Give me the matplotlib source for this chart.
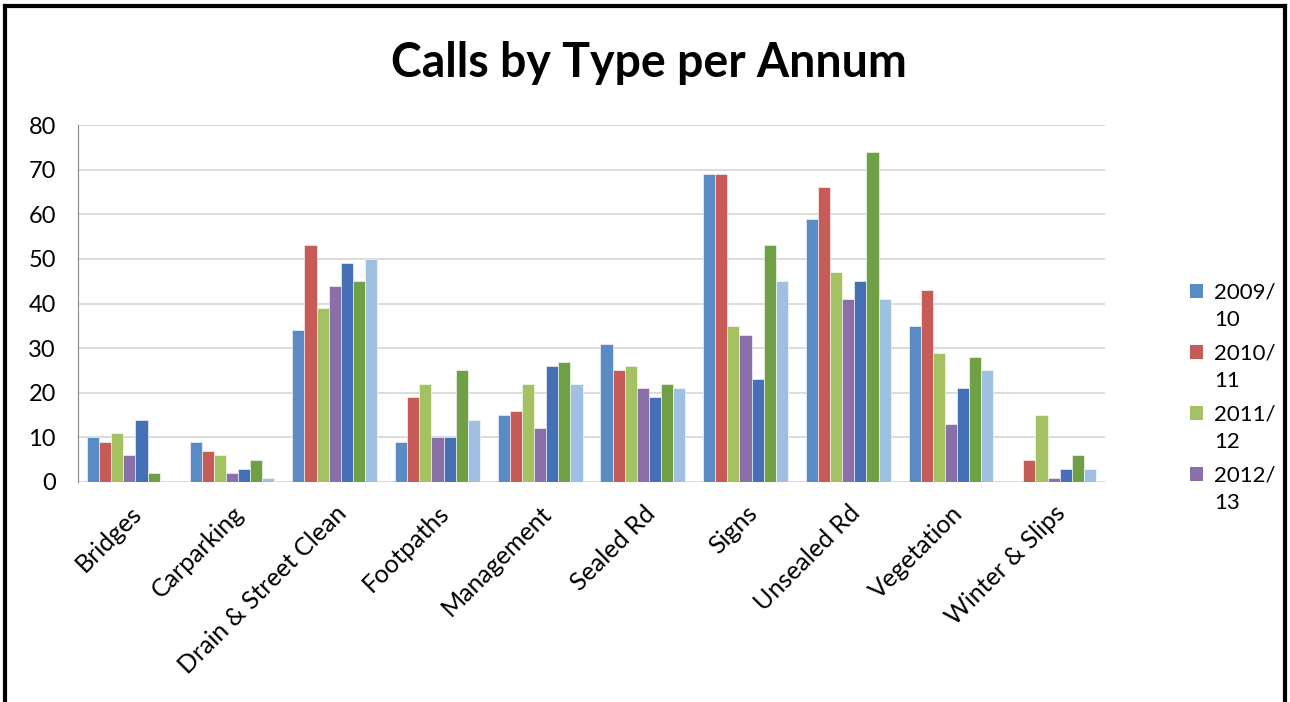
import matplotlib
matplotlib.use('Agg')
import matplotlib.pyplot as plt
from matplotlib.lines import Line2D
from matplotlib.patches import Patch, Rectangle
from matplotlib.legend_handler import HandlerPatch
import numpy as np

plt.rcParams['font.family'] = ['Lato', 'DejaVu Sans']

categories = ['Bridges', 'Carparking', 'Drain & Street Clean', 'Footpaths', 'Management',
              'Sealed Rd', 'Signs', 'Unsealed Rd', 'Vegetation', 'Winter & Slips']
years = ['2009/10', '2010/11', '2011/12', '2012/13', '2013/14', '2014/15', '2015/16']
v0910 = [10, 9, 34, 9, 15, 31, 69, 59, 35, 0]
v1011 = [9, 7, 53, 19, 16, 25, 69, 66, 43, 5]
v1112 = [11, 6, 39, 22, 22, 26, 35, 47, 29, 15]
v1213 = [6, 2, 44, 10, 12, 21, 33, 41, 13, 1]
v1314 = [14, 3, 49, 10, 26, 19, 23, 45, 21, 3]
v1415 = [2, 5, 45, 25, 27, 22, 53, 74, 28, 6]
v1516 = [0, 1, 50, 14, 22, 21, 45, 41, 25, 3]
series = [v0910, v1011, v1112, v1213, v1314, v1415, v1516]
colors = ['#5B8BC5', '#C65B58', '#A5C263', '#8A6FA9', '#4670B5', '#6FA046', '#A0C0E2']


class TopSquare(HandlerPatch):
    # legend square sits beside the first line of a two-line label
    def create_artists(self, legend, orig_handle, xdescent, ydescent, width, height, fontsize, trans):
        s = fontsize * 0.6
        p = Rectangle((-xdescent, -ydescent + fontsize * 0.72), s, s,
                      facecolor=orig_handle.get_facecolor(), edgecolor='none', transform=trans)
        return [p]


fig = plt.figure(figsize=(12.9, 7.02), dpi=100)
ax = fig.add_axes([78/1290, 1 - 482/702, (1105-78)/1290, (482-125)/702])

x = np.arange(len(categories))
bw = 0.118
for i, (vals, col) in enumerate(zip(series, colors)):
    ax.bar(x + (i - 3) * bw, vals, bw, color=col, edgecolor='white', linewidth=0.4, zorder=2)

ax.set_xlim(-0.5, len(categories) - 0.5)
ax.set_ylim(0, 80)
ax.set_yticks(range(0, 81, 10))
ax.yaxis.grid(True, color='#D9D9D9', linewidth=1.3, zorder=0)
for s in ['top', 'right', 'bottom']:
    ax.spines[s].set_visible(False)
ax.spines['left'].set_color('#888888')
ax.tick_params(axis='both', length=0, colors='black')
ax.tick_params(axis='y', pad=16, labelsize=17)
ax.tick_params(axis='x', pad=14)
ax.set_xticks(x)
ax.set_xticklabels(categories, rotation=45, ha='right', rotation_mode='anchor', fontsize=18)
ax.axhline(0, color='#D9D9D9', linewidth=1.3, zorder=1)

fig.text(0.503, 1 - 63/702, 'Calls by Type per Annum', ha='center', va='center',
         fontsize=33.5, fontweight='bold')

handles = [Patch(facecolor=c) for c in colors[:4]]
labels = [y.replace('/', '/\n') for y in years[:4]]
leg = ax.legend(handles, labels, loc='center left', bbox_to_anchor=(1170/1290, 1 - 398/702),
                bbox_transform=fig.transFigure, frameon=False, fontsize=16,
                handlelength=0.6, handleheight=0.6, handletextpad=0.5, labelspacing=0.62,
                handler_map={Patch: TopSquare()})
for t in leg.get_texts():
    t.set_linespacing(1.45)

# frame
lw = 3
fig.add_artist(Line2D([5/1290, 1285/1290], [1 - 6/702, 1 - 6/702], color='black', lw=lw))
fig.add_artist(Line2D([5/1290, 5/1290], [0, 1 - 6/702], color='black', lw=lw))
fig.add_artist(Line2D([1285/1290, 1285/1290], [0, 1 - 6/702], color='black', lw=lw))

fig.savefig('out.png', dpi=100)
